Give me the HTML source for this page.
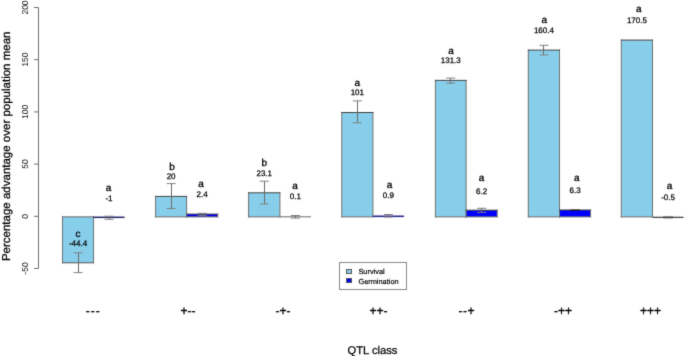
<!DOCTYPE html>
<html><head><meta charset="utf-8"><style>
html,body{margin:0;padding:0;background:#fff;}
body{width:685px;height:356px;overflow:hidden;}
svg{display:block;will-change:transform;}
text{font-family:"Liberation Sans",sans-serif;fill:#111;text-rendering:geometricPrecision;}
.tk{font-size:8.5px;}
.yt{font-size:11.5px;fill:#000;stroke:#000;stroke-width:0.25px;}
.lt{font-size:10px;text-anchor:middle;fill:#000;stroke:#000;stroke-width:0.32px;}
.nt{font-size:8px;text-anchor:middle;fill:#000;stroke:#000;stroke-width:0.25px;}
.xl{font-size:12px;text-anchor:middle;text-rendering:auto;fill:#000;stroke:#000;stroke-width:0.32px;}
.xt{font-size:11.2px;text-anchor:middle;fill:#000;stroke:#000;stroke-width:0.25px;}
.lg{font-size:7.4px;fill:#000;stroke:#000;stroke-width:0.18px;}
</style></head><body>
<svg width="685" height="356" viewBox="0 0 685 356">
<defs><filter id="soft" x="0" y="0" width="100%" height="100%" color-interpolation-filters="sRGB"><feConvolveMatrix order="3" kernelMatrix="0.02 0.08 0.02 0.08 0.6 0.08 0.02 0.08 0.02" edgeMode="duplicate"/></filter></defs>
<g filter="url(#soft)">
<rect width="685" height="356" fill="#fff"/>
<line x1="38.5" y1="7.5" x2="38.5" y2="268.5" stroke="#707070" stroke-width="1"/>
<line x1="34" y1="7.5" x2="38.5" y2="7.5" stroke="#707070" stroke-width="1"/>
<text x="0" y="0" transform="translate(28.3,7.5) rotate(-90)" text-anchor="middle" class="tk">200</text>
<line x1="34" y1="59.7" x2="38.5" y2="59.7" stroke="#707070" stroke-width="1"/>
<text x="0" y="0" transform="translate(28.3,59.7) rotate(-90)" text-anchor="middle" class="tk">150</text>
<line x1="34" y1="111.9" x2="38.5" y2="111.9" stroke="#707070" stroke-width="1"/>
<text x="0" y="0" transform="translate(28.3,111.9) rotate(-90)" text-anchor="middle" class="tk">100</text>
<line x1="34" y1="164.1" x2="38.5" y2="164.1" stroke="#707070" stroke-width="1"/>
<text x="0" y="0" transform="translate(28.3,164.1) rotate(-90)" text-anchor="middle" class="tk">50</text>
<line x1="34" y1="216.3" x2="38.5" y2="216.3" stroke="#707070" stroke-width="1"/>
<text x="0" y="0" transform="translate(28.3,216.3) rotate(-90)" text-anchor="middle" class="tk">0</text>
<line x1="34" y1="268.5" x2="38.5" y2="268.5" stroke="#707070" stroke-width="1"/>
<text x="0" y="0" transform="translate(28.3,268.5) rotate(-90)" text-anchor="middle" class="tk">-50</text>
<text transform="translate(9.6,146.3) rotate(-90)" text-anchor="middle" class="yt">Percentage advantage over population mean</text>
<rect x="62.50" y="216.85" width="31.00" height="45.95" fill="#87CEEB"/>
<path d="M62.50 216.35V263.30M93.50 216.35V263.30" stroke="#707070" stroke-width="1" fill="none"/>
<path d="M62.00 216.85H94.00" stroke="#6a6a6a" stroke-width="1" fill="none"/>
<path d="M62.00 262.80H94.00" stroke="#555" stroke-width="1" fill="none"/>
<rect x="93.50" y="216.55" width="31.06" height="1.5" fill="#23236a"/>
<g stroke-width="1" fill="none"><line x1="78.50" y1="252.8" x2="78.50" y2="272.6" stroke="#6a6a6a"/><line x1="73.50" y1="252.8" x2="82.50" y2="252.8" stroke="#808080"/><line x1="73.50" y1="272.6" x2="82.50" y2="272.6" stroke="#808080"/></g>
<g stroke-width="1" fill="none"><line x1="109.50" y1="216.2" x2="109.50" y2="219.3" stroke="#6a6a6a"/><line x1="104.53" y1="216.2" x2="113.53" y2="216.2" stroke="#808080"/><line x1="104.53" y1="219.3" x2="113.53" y2="219.3" stroke="#808080"/></g>
<text x="78.00" y="236.80" class="lt">c</text>
<text x="78.00" y="245.70" class="nt">-44.4</text>
<text x="108.53" y="190.60" class="lt">a</text>
<text x="109.03" y="200.80" class="nt">-1</text>
<rect x="155.60" y="196.40" width="31.00" height="20.45" fill="#87CEEB"/>
<path d="M155.60 195.90V217.35M186.60 195.90V217.35" stroke="#707070" stroke-width="1" fill="none"/>
<path d="M155.10 216.85H187.10" stroke="#6a6a6a" stroke-width="1" fill="none"/>
<path d="M155.10 196.40H187.10" stroke="#444" stroke-width="1" fill="none"/>
<rect x="186.60" y="214.10" width="31.06" height="2.75" fill="#0000FF"/>
<path d="M186.60 213.60V217.35M217.66 213.60V217.35" stroke="#707070" stroke-width="1" fill="none"/>
<path d="M186.10 216.85H218.16" stroke="#6a6a6a" stroke-width="1" fill="none"/>
<path d="M186.10 214.10H218.16" stroke="#444" stroke-width="1" fill="none"/>
<g stroke-width="1" fill="none"><line x1="171.50" y1="183.6" x2="171.50" y2="208.5" stroke="#6a6a6a"/><line x1="166.60" y1="183.6" x2="175.60" y2="183.6" stroke="#808080"/><line x1="166.60" y1="208.5" x2="175.60" y2="208.5" stroke="#808080"/></g>
<g stroke-width="1" fill="none"><line x1="202.50" y1="213.3" x2="202.50" y2="215.4" stroke="#6a6a6a"/><line x1="197.63" y1="213.3" x2="206.63" y2="213.3" stroke="#808080"/><line x1="197.63" y1="215.4" x2="206.63" y2="215.4" stroke="#808080"/></g>
<text x="172.10" y="169.80" class="lt">b</text>
<text x="171.10" y="178.90" class="nt">20</text>
<text x="201.13" y="186.60" class="lt">a</text>
<text x="202.13" y="196.90" class="nt">2.4</text>
<rect x="248.60" y="192.80" width="31.30" height="24.05" fill="#87CEEB"/>
<path d="M248.60 192.30V217.35M279.90 192.30V217.35" stroke="#707070" stroke-width="1" fill="none"/>
<path d="M248.10 216.85H280.40" stroke="#6a6a6a" stroke-width="1" fill="none"/>
<path d="M248.10 192.80H280.40" stroke="#444" stroke-width="1" fill="none"/>
<rect x="279.90" y="216.30" width="31.06" height="1.0" fill="#6a6a6a"/>
<g stroke-width="1" fill="none"><line x1="264.50" y1="181.2" x2="264.50" y2="204.0" stroke="#6a6a6a"/><line x1="259.75" y1="181.2" x2="268.75" y2="181.2" stroke="#808080"/><line x1="259.75" y1="204.0" x2="268.75" y2="204.0" stroke="#808080"/></g>
<g stroke-width="1" fill="none"><line x1="295.50" y1="215.5" x2="295.50" y2="218.1" stroke="#6a6a6a"/><line x1="290.93" y1="215.5" x2="299.93" y2="215.5" stroke="#808080"/><line x1="290.93" y1="218.1" x2="299.93" y2="218.1" stroke="#808080"/></g>
<text x="264.25" y="165.90" class="lt">b</text>
<text x="264.25" y="175.90" class="nt">23.1</text>
<text x="295.13" y="188.70" class="lt">a</text>
<text x="295.43" y="199.20" class="nt">0.1</text>
<rect x="341.80" y="112.50" width="31.10" height="104.35" fill="#87CEEB"/>
<path d="M341.80 112.00V217.35M372.90 112.00V217.35" stroke="#707070" stroke-width="1" fill="none"/>
<path d="M341.30 216.85H373.40" stroke="#6a6a6a" stroke-width="1" fill="none"/>
<path d="M341.30 112.50H373.40" stroke="#444" stroke-width="1" fill="none"/>
<rect x="372.90" y="215.50" width="31.06" height="1.6" fill="#262690"/>
<g stroke-width="1" fill="none"><line x1="357.50" y1="100.9" x2="357.50" y2="122.8" stroke="#6a6a6a"/><line x1="352.85" y1="100.9" x2="361.85" y2="100.9" stroke="#808080"/><line x1="352.85" y1="122.8" x2="361.85" y2="122.8" stroke="#808080"/></g>
<g stroke-width="1" fill="none"><line x1="388.50" y1="214.5" x2="388.50" y2="217.0" stroke="#6a6a6a"/><line x1="383.93" y1="214.5" x2="392.93" y2="214.5" stroke="#808080"/><line x1="383.93" y1="217.0" x2="392.93" y2="217.0" stroke="#808080"/></g>
<text x="357.35" y="85.50" class="lt">a</text>
<text x="357.35" y="95.00" class="nt">101</text>
<text x="389.43" y="187.50" class="lt">a</text>
<text x="388.43" y="198.30" class="nt">0.9</text>
<rect x="435.40" y="80.40" width="30.70" height="136.45" fill="#87CEEB"/>
<path d="M435.40 79.90V217.35M466.10 79.90V217.35" stroke="#707070" stroke-width="1" fill="none"/>
<path d="M434.90 216.85H466.60" stroke="#6a6a6a" stroke-width="1" fill="none"/>
<path d="M434.90 80.40H466.60" stroke="#444" stroke-width="1" fill="none"/>
<rect x="466.10" y="210.20" width="31.06" height="6.65" fill="#0000FF"/>
<path d="M466.10 209.70V217.35M497.16 209.70V217.35" stroke="#707070" stroke-width="1" fill="none"/>
<path d="M465.60 216.85H497.66" stroke="#6a6a6a" stroke-width="1" fill="none"/>
<path d="M465.60 210.20H497.66" stroke="#444" stroke-width="1" fill="none"/>
<g stroke-width="1" fill="none"><line x1="450.50" y1="78.1" x2="450.50" y2="83.2" stroke="#6a6a6a"/><line x1="446.25" y1="78.1" x2="455.25" y2="78.1" stroke="#808080"/><line x1="446.25" y1="83.2" x2="455.25" y2="83.2" stroke="#808080"/></g>
<g stroke-width="1" fill="none"><line x1="481.50" y1="208.3" x2="481.50" y2="212.4" stroke="#6a6a6a"/><line x1="477.13" y1="208.3" x2="486.13" y2="208.3" stroke="#808080"/><line x1="477.13" y1="212.4" x2="486.13" y2="212.4" stroke="#808080"/></g>
<text x="450.95" y="53.60" class="lt">a</text>
<text x="450.75" y="63.20" class="nt">131.3</text>
<text x="481.63" y="181.40" class="lt">a</text>
<text x="481.63" y="193.60" class="nt">6.2</text>
<rect x="528.30" y="50.10" width="31.20" height="166.75" fill="#87CEEB"/>
<path d="M528.30 49.60V217.35M559.50 49.60V217.35" stroke="#707070" stroke-width="1" fill="none"/>
<path d="M527.80 216.85H560.00" stroke="#6a6a6a" stroke-width="1" fill="none"/>
<path d="M527.80 50.10H560.00" stroke="#444" stroke-width="1" fill="none"/>
<rect x="559.50" y="210.00" width="31.06" height="6.85" fill="#0000FF"/>
<path d="M559.50 209.50V217.35M590.56 209.50V217.35" stroke="#707070" stroke-width="1" fill="none"/>
<path d="M559.00 216.85H591.06" stroke="#6a6a6a" stroke-width="1" fill="none"/>
<path d="M559.00 210.00H591.06" stroke="#444" stroke-width="1" fill="none"/>
<g stroke-width="1" fill="none"><line x1="543.50" y1="45.3" x2="543.50" y2="55.0" stroke="#6a6a6a"/><line x1="539.40" y1="45.3" x2="548.40" y2="45.3" stroke="#808080"/><line x1="539.40" y1="55.0" x2="548.40" y2="55.0" stroke="#808080"/></g>
<line x1="570.23" y1="210.2" x2="579.83" y2="210.2" stroke="#111" stroke-width="1.1"/>
<text x="544.40" y="22.90" class="lt">a</text>
<text x="543.90" y="32.90" class="nt">160.4</text>
<text x="576.83" y="181.40" class="lt">a</text>
<text x="575.03" y="193.00" class="nt">6.3</text>
<rect x="621.30" y="40.10" width="31.20" height="176.75" fill="#87CEEB"/>
<path d="M621.30 39.60V217.35M652.50 39.60V217.35" stroke="#707070" stroke-width="1" fill="none"/>
<path d="M620.80 216.85H653.00" stroke="#6a6a6a" stroke-width="1" fill="none"/>
<path d="M620.80 40.10H653.00" stroke="#444" stroke-width="1" fill="none"/>
<rect x="652.50" y="216.75" width="31.06" height="1.1" fill="#2a2a2a"/>
<rect x="663.03" y="216.5" width="10" height="1.8" fill="#444"/>
<text x="638.90" y="11.60" class="lt">a</text>
<text x="636.90" y="23.20" class="nt">170.5</text>
<text x="669.43" y="188.70" class="lt">a</text>
<text x="668.03" y="200.00" class="nt">-0.5</text>
<text x="93.30" y="314.9" class="xl" style="letter-spacing:1.0px">---</text>
<text x="188.00" y="314.9" class="xl">+--</text>
<text x="283.00" y="314.9" class="xl">-+-</text>
<text x="378.50" y="314.9" class="xl">++-</text>
<text x="466.80" y="314.9" class="xl" style="letter-spacing:0.6px">--+</text>
<text x="563.00" y="314.9" class="xl">-++</text>
<text x="650.60" y="314.9" class="xl">+++</text>
<text x="372.5" y="353.9" class="xt">QTL class</text>
<rect x="339.5" y="262.5" width="67" height="27" fill="#fff" stroke="#888" stroke-width="1"/>
<rect x="346.5" y="269.5" width="5" height="4" fill="#87CEEB" stroke="#555" stroke-width="1"/>
<rect x="346.5" y="278.5" width="5" height="4" fill="#0000FF" stroke="#555" stroke-width="1"/>
<text x="358.4" y="274.4" class="lg">Survival</text>
<text x="358.4" y="283.6" class="lg">Germination</text>
</g>
</svg>
</body></html>
